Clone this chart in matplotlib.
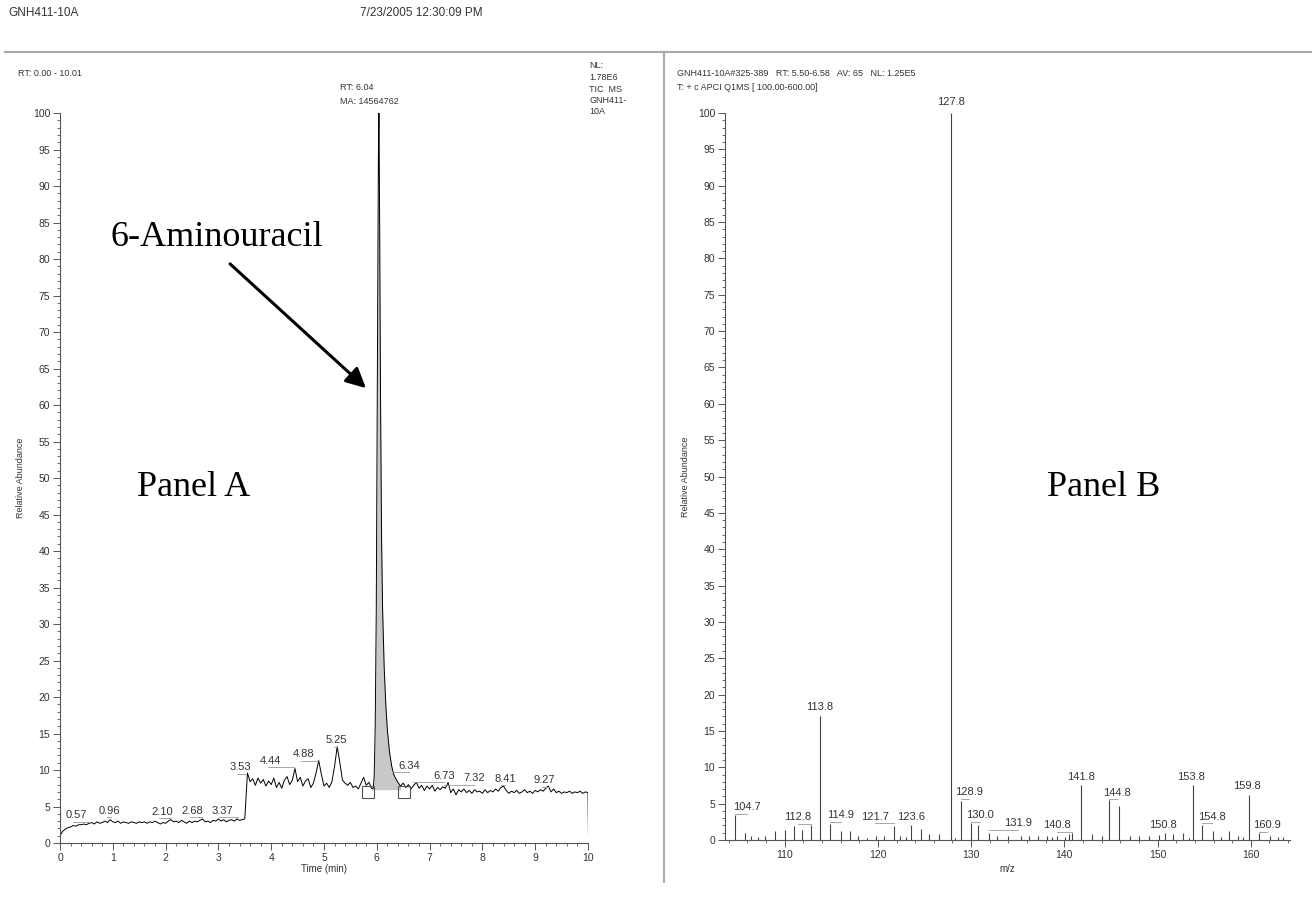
import numpy as np
import matplotlib
matplotlib.use("Agg")
import matplotlib.pyplot as plt
from matplotlib.ticker import MultipleLocator
from matplotlib.lines import Line2D
from matplotlib.patches import FancyArrowPatch

plt.rcParams['font.family'] = ['Liberation Sans', 'DejaVu Sans']

# ---- Panel A: TIC chromatogram -------------------------------------------
# 0.00 - 5.90 min, 0.05 min steps
tic_early = [
    1.0, 1.6, 1.9, 2.1, 2.2, 2.4, 2.3, 2.5, 2.5, 2.6,   # 0.00
    2.5, 2.7, 2.8, 2.6, 2.9, 2.7, 2.8, 3.0, 2.8, 3.2,   # 0.50
    2.9, 2.8, 3.0, 2.7, 2.9, 2.8, 2.7, 2.9, 2.8, 2.7,   # 1.00
    2.9, 2.8, 2.9, 2.7, 2.9, 2.8, 3.0, 2.8, 2.6, 2.8,   # 1.50
    2.7, 3.0, 3.2, 2.9, 3.0, 2.8, 3.1, 2.9, 2.7, 3.0,   # 2.00
    2.8, 3.0, 2.9, 3.1, 3.3, 2.9, 3.0, 2.8, 3.1, 3.0,   # 2.50
    3.3, 3.0, 3.2, 2.9, 3.1, 3.2, 3.0, 3.3, 3.1, 3.2,   # 3.00
    3.3, 9.6, 8.4, 8.8, 7.9, 8.9, 8.2, 8.7, 7.8, 8.5,   # 3.50
    8.0, 8.9, 7.6, 8.3, 7.5, 8.6, 9.1, 8.0, 8.6, 10.2,  # 4.00
    8.4, 9.0, 7.8, 8.5, 8.8, 7.6, 8.2, 9.6, 11.3, 9.4,  # 4.50
    7.8, 8.2, 7.6, 8.4, 10.5, 13.2, 11.0, 8.6, 8.2, 7.9,  # 5.00
    8.3, 7.6, 7.8, 7.4, 8.2, 9.0, 7.9, 8.3, 7.5,        # 5.50
]
# main peak, 6-aminouracil
peak_time = [5.93, 5.95, 5.97, 5.99, 6.01, 6.03, 6.04, 6.05, 6.07, 6.09,
             6.11, 6.14, 6.17, 6.20, 6.24, 6.28, 6.32, 6.36, 6.40, 6.45]
peak_tic = [7.4, 9.0, 16.0, 32.0, 62.0, 94.0, 100.0, 90.0, 62.0, 42.0,
            32.0, 24.0, 19.0, 15.5, 12.5, 10.6, 9.4, 8.8, 8.3, 7.8]
# 6.50 - 10.00 min, 0.05 min steps
tic_late = [
    8.2, 7.6, 8.0, 7.4, 7.9, 8.3, 7.5, 7.9, 7.2, 7.8,   # 6.50
    7.4, 7.9, 7.1, 7.6, 7.3, 7.7, 7.5, 8.3, 6.9, 7.4,   # 7.00
    6.6, 7.3, 7.0, 7.4, 6.9, 7.2, 6.8, 7.3, 7.0, 7.1,   # 7.50
    6.8, 7.3, 6.9, 7.2, 7.0, 7.4, 7.1, 7.6, 7.8, 7.2,   # 8.00
    6.8, 7.1, 6.9, 7.2, 6.8, 7.0, 7.3, 6.9, 7.1, 6.8,   # 8.50
    7.2, 7.0, 7.3, 7.1, 7.5, 7.8, 7.0, 7.4, 6.9, 7.1,   # 9.00
    6.8, 7.0, 6.9, 7.1, 6.8, 7.0, 6.9, 7.1, 6.8, 7.0,   # 9.50
    6.9,                                                # 10.00
]
peak_start, peak_end, peak_base = 5.92, 6.46, 7.3

a_labels = ['0.57', '0.96', '2.10', '2.68', '3.37', '3.53', '4.44', '4.88',
            '5.25', '6.34', '6.73', '7.32', '8.41', '9.27']
# label text positions (time, abundance) as printed by the software
a_label_pos = [(0.30, 3.8), (0.94, 4.4), (1.93, 4.3), (2.51, 4.4), (3.07, 4.4),
               (3.41, 10.4), (3.98, 11.3), (4.61, 12.2), (5.23, 14.1), (6.61, 10.6),
               (7.28, 9.2), (7.85, 8.9), (8.43, 8.8), (9.18, 8.6)]

# ---- Panel B: mass spectrum ----------------------------------------------
mz = [104.7, 105.7, 106.4, 107.1, 107.9, 109.0, 110.0, 111.0, 111.9, 112.8,
      113.8, 114.9, 116.0, 117.0, 117.9, 118.8, 119.8, 120.7, 121.7, 122.4,
      123.0, 123.6, 124.6, 125.5, 126.6, 127.8, 128.3, 128.9, 130.0, 130.7,
      131.9, 132.8, 133.9, 135.3, 136.2, 137.2, 138.1, 138.7, 139.2, 140.1,
      140.5, 140.8, 141.8, 143.0, 144.0, 144.8, 145.9, 147.0, 148.0, 149.1,
      150.1, 150.8, 151.7, 152.7, 153.4, 153.8, 154.8, 155.9, 156.8, 157.7,
      158.6, 159.2, 159.8, 160.9, 162.1, 162.9, 163.4]
intensity = [3.4, 1.0, 0.5, 0.4, 0.6, 1.3, 1.4, 1.9, 1.4, 2.0,
             17.0, 2.2, 1.2, 1.2, 0.6, 0.3, 0.6, 0.6, 1.9, 0.6,
             0.4, 2.1, 1.5, 0.8, 0.8, 100.0, 0.3, 5.3, 2.3, 2.0,
             1.0, 0.6, 0.5, 0.5, 0.6, 0.6, 0.5, 0.4, 0.6, 0.4,
             0.8, 1.0, 7.5, 0.8, 0.6, 5.5, 4.7, 0.6, 0.5, 0.6,
             0.7, 1.0, 0.8, 1.0, 0.3, 7.5, 2.0, 1.2, 0.4, 1.2,
             0.6, 0.4, 6.2, 0.9, 0.5, 0.4, 0.4]
b_labels = ['104.7', '112.8', '113.8', '114.9', '121.7', '123.6', '127.8', '128.9',
            '130.0', '131.9', '140.8', '141.8', '144.8', '150.8', '153.8', '154.8',
            '159.8', '160.9']
b_label_pos = [(106.0, 4.5), (111.4, 3.1), (113.8, 18.3), (116.0, 3.4), (119.7, 3.2),
               (123.6, 3.2), (127.8, 101.5), (129.8, 6.6), (131.0, 3.4), (135.0, 2.3),
               (139.2, 2.0), (141.8, 8.7), (145.6, 6.5), (150.6, 2.0), (153.6, 8.7),
               (155.8, 3.2), (159.6, 7.4), (161.7, 2.0)]

W, H = 1312, 897
fig = plt.figure(figsize=(W / 100, H / 100), dpi=100)
txt = '#333333'


def style_axes(ax):
    for s in ['top', 'right']:
        ax.spines[s].set_visible(False)
    for s in ['left', 'bottom']:
        ax.spines[s].set_color('#555555')
        ax.spines[s].set_linewidth(0.8)
    ax.tick_params(which='major', direction='out', length=5, width=0.7,
                   colors='#555555', labelcolor=txt, labelsize=7.5, pad=2)
    ax.tick_params(which='minor', direction='out', length=2.5, width=0.6,
                   colors='#555555')
    ax.set_ylim(0, 100)
    ax.yaxis.set_major_locator(MultipleLocator(5))
    ax.yaxis.set_minor_locator(MultipleLocator(1))


# page header
fig.text(8 / W, 1 - 13 / H, 'GNH411-10A', fontsize=8.5, color=txt, va='center')
fig.text(360 / W, 1 - 13 / H, '7/23/2005 12:30:09 PM', fontsize=8.5, color=txt, va='center')
fig.add_artist(Line2D([5 / W, 1], [1 - 52 / H, 1 - 52 / H], color='#aaaaaa', lw=1.5))
fig.add_artist(Line2D([664 / W, 664 / W], [1 - 52 / H, 1 - 882 / H], color='#aaaaaa', lw=1.5))

# ---- panel A
axA = fig.add_axes([60 / W, 1 - 843 / H, 528 / W, 730 / H])
style_axes(axA)
t_early = np.round(np.arange(len(tic_early)) * 0.05, 2)
t_late = np.round(6.5 + np.arange(len(tic_late)) * 0.05, 2)
time = np.concatenate([t_early, peak_time, t_late, [10.01]])
tic = np.concatenate([tic_early, peak_tic, tic_late, [0.0]])

sel = (time >= peak_start) & (time <= peak_end)
axA.fill_between(time[sel], peak_base, tic[sel], color='#c8c8c8', lw=0)
axA.plot(time, tic, color='black', lw=0.7)
axA.plot([peak_start - 0.08, peak_end + 0.06], [peak_base - 0.3, peak_base - 0.3], 's',
         ms=8, mfc='none', mec='#555555', mew=0.8, clip_on=False)
axA.set_xlim(0, 10)
axA.xaxis.set_major_locator(MultipleLocator(1))
axA.xaxis.set_minor_locator(MultipleLocator(0.2))
axA.set_xlabel('Time (min)', fontsize=7, color=txt, labelpad=1)
axA.set_ylabel('Relative Abundance', fontsize=6.5, color=txt, labelpad=6)

for lab, (lx, ly) in zip(a_labels, a_label_pos):
    pt = float(lab)
    axA.text(lx, ly, lab, fontsize=8, color=txt, ha='center', va='center')
    x0, x1 = sorted([lx, pt])
    axA.plot([x0 - 0.05, x1], [ly - 0.9, ly - 0.9], color='#999999', lw=0.6)

fig.text(340 / W, 1 - 88 / H, 'RT: 6.04', fontsize=6.5, color=txt, va='center')
fig.text(340 / W, 1 - 101 / H, 'MA: 14564762', fontsize=6.5, color=txt, va='center')
fig.text(18 / W, 1 - 73 / H, 'RT: 0.00 - 10.01', fontsize=6.5, color=txt, va='center')
for i, line in enumerate(['NL:', '1.78E6', 'TIC  MS', 'GNH411-', '10A']):
    fig.text(589 / W, 1 - (66 + i * 11.5) / H, line, fontsize=6.5, color=txt, va='center')

fig.text(110 / W, 1 - 238 / H, '6-Aminouracil', family='Liberation Serif',
         fontsize=26, color='black', va='center')
fig.text(137 / W, 1 - 487 / H, 'Panel A', family='Liberation Serif',
         fontsize=26, color='black', va='center')
fig.add_artist(FancyArrowPatch(
    (228 / W, 1 - 262 / H), (368 / W, 1 - 390 / H), transform=fig.transFigure,
    arrowstyle='-|>', mutation_scale=30, lw=2.2, color='black'))

# ---- panel B
axB = fig.add_axes([725 / W, 1 - 840 / H, 565 / W, 727 / H])
style_axes(axB)
axB.vlines(mz, 0, intensity, color='#444444', lw=0.8)
axB.set_xlim(103.6, 164.2)
axB.xaxis.set_major_locator(MultipleLocator(10))
axB.xaxis.set_minor_locator(MultipleLocator(2))
axB.set_xlabel('m/z', fontsize=7, color=txt, labelpad=3)
axB.set_ylabel('Relative Abundance', fontsize=6.5, color=txt, labelpad=6)

for lab, (lx, ly) in zip(b_labels, b_label_pos):
    pm = float(lab)
    axB.text(lx, ly, lab, fontsize=8, color=txt, ha='center', va='center',
             clip_on=False)
    if abs(lx - pm) > 0.5:
        x0, x1 = sorted([lx, pm])
        axB.plot([x0, x1], [ly - 0.9, ly - 0.9], color='#999999', lw=0.6)

fig.text(677 / W, 1 - 73 / H, 'GNH411-10A#325-389   RT: 5.50-6.58   AV: 65   NL: 1.25E5',
         fontsize=6.5, color=txt, va='center')
fig.text(677 / W, 1 - 88 / H, 'T: + c APCI Q1MS [ 100.00-600.00]',
         fontsize=6.5, color=txt, va='center')
fig.text(1047 / W, 1 - 487 / H, 'Panel B', family='Liberation Serif',
         fontsize=26, color='black', va='center')

fig.savefig('out.png', dpi=100)
